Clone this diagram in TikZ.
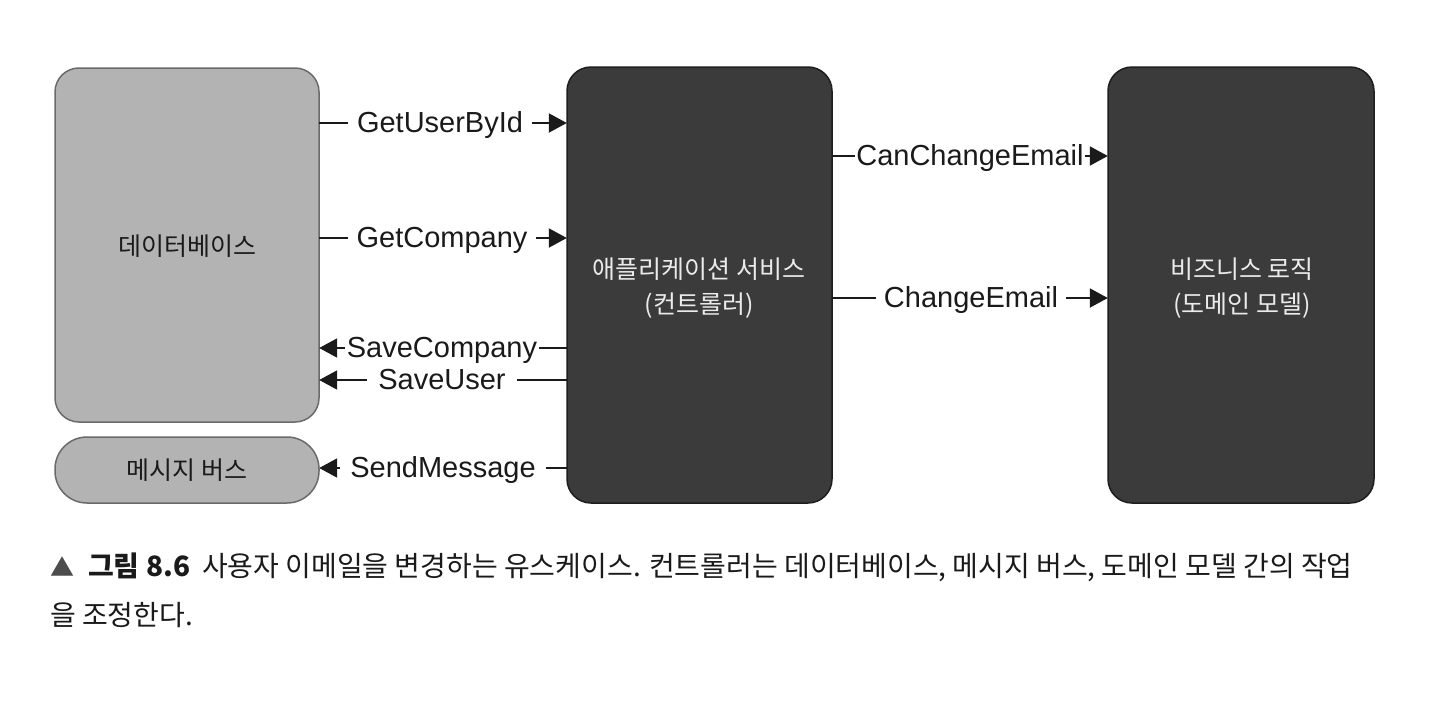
\documentclass[tikz,border=0pt]{standalone}
\usepackage{fontspec}
\setmainfont{Liberation Sans}
\newfontfamily\kr{Noto Sans CJK KR}
\usetikzlibrary{arrows.meta}
\definecolor{lightfill}{HTML}{B3B3B3}
\definecolor{lightdraw}{HTML}{6A6A6A}
\definecolor{darkfill}{HTML}{3B3B3B}
\definecolor{darkdraw}{HTML}{1E1E1E}
\definecolor{ink}{HTML}{1A1A1A}
\tikzset{
  lightbox/.style={draw=lightdraw, fill=lightfill, line width=1.5pt, rounded corners=24pt, inner sep=0pt},
  darkbox/.style={draw=darkdraw, fill=darkfill, line width=1.5pt, rounded corners=24pt, inner sep=0pt},
  boxtext/.style={font=\kr\fontsize{25}{35}\selectfont, align=center},
  lbl/.style={font=\fontsize{29}{34}\selectfont, text=ink, inner ysep=0pt, text height=22pt, text depth=4pt, anchor=center},
  conn/.style={line width=2pt, draw=ink},
  arr/.style={conn, -{Triangle[length=18pt,width=19pt]}},
  captext/.style={anchor=west, inner sep=0pt, font=\kr\fontsize{28}{32}\selectfont, text=ink},
}
\begin{document}
\begin{tikzpicture}[x=1pt,y=-1pt]
\path[use as bounding box, fill=white] (0,0) rectangle (1450,704);

% boxes
\path[lightbox] (55,68) rectangle (319,422);
\node[inner sep=0pt, minimum width=264pt, minimum height=354pt] (db) at (187,245) {};
\path[lightbox, rounded corners=32pt] (55,437) rectangle (319,503);
\node[inner sep=0pt, minimum width=264pt, minimum height=66pt] (bus) at (187,470) {};
\path[darkbox] (567,67) rectangle (832,503);
\node[inner sep=0pt, minimum width=265pt, minimum height=436pt] (app) at (699.5,285) {};
\path[darkbox] (1108,67) rectangle (1374,503);
\node[inner sep=0pt, minimum width=266pt, minimum height=436pt] (dom) at (1241,285) {};

% box texts
\node[boxtext, text=ink] (dbt) at (187,246) {데이터베이스};
\node[boxtext, text=ink] (bust) at (187,470) {메시지 버스};
\node[boxtext, text=white!92!black] (appt) at (699,288) {애플리케이션 서비스\\(컨트롤러)};
\node[boxtext, text=white!92!black] (domt) at (1242,288) {비즈니스 로직\\(도메인 모델)};

% labels
\node[lbl, inner xsep=9pt] (l1) at (440,123) {GetUserById};
\node[lbl, inner xsep=8pt] (l2) at (442,238) {GetCompany};
\node[lbl, inner xsep=2pt] (l3) at (442,348) {SaveCompany};
\node[lbl, inner xsep=11pt] (l4) at (442,380) {SaveUser};
\node[lbl, inner xsep=10pt] (l5) at (443,468) {SendMessage};
\node[lbl, inner xsep=1pt] (l6) at (970,156) {CanChangeEmail};
\node[lbl, inner xsep=8pt] (l7) at (971,298) {ChangeEmail};

% connectors
\draw[conn] (db.east |- l1) -- (l1.west);
\draw[arr] (l1.east) -- (app.west |- l1);
\draw[conn] (db.east |- l2) -- (l2.west);
\draw[arr] (l2.east) -- (app.west |- l2);
\draw[conn] (app.west |- l3) -- (l3.east);
\draw[arr] (l3.west) -- (db.east |- l3);
\draw[conn] (app.west |- l4) -- (l4.east);
\draw[arr] (l4.west) -- (db.east |- l4);
\draw[conn] (app.west |- l5) -- (l5.east);
\draw[arr] (l5.west) -- (bus.east |- l5);
\draw[conn] (app.east |- l6) -- (l6.west);
\draw[arr] (l6.east) -- (dom.west |- l6);
\draw[conn] (app.east |- l7) -- (l7.west);
\draw[arr] (l7.east) -- (dom.west |- l7);

% caption
\node[captext] (cap1) at (50,567)
  {{\color{black!70}\fontsize{24}{28}\selectfont▲}\hspace{14pt}\textbf{그림 8.6}\hspace{12pt}사용자 이메일을 변경하는 유스케이스. 컨트롤러는 데이터베이스, 메시지 버스, 도메인 모델 간의 작업};
\node[captext] (cap2) at (50,615) {을 조정한다.};
\end{tikzpicture}
\end{document}
